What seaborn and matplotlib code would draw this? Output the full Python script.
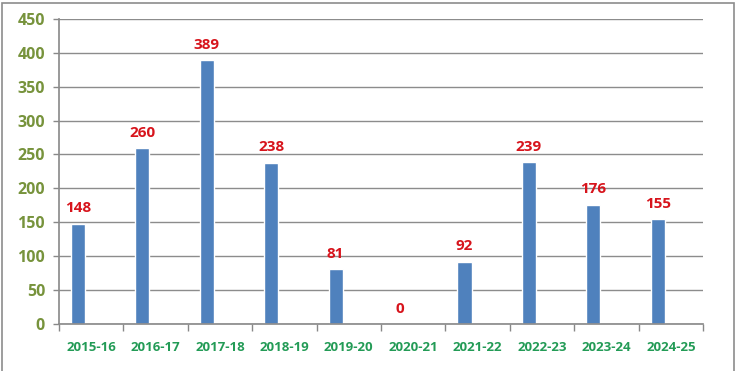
import matplotlib
matplotlib.use("Agg")
import matplotlib.pyplot as plt
from matplotlib.patches import Rectangle
import numpy as np
import pandas as pd
import seaborn as sns

# データ
years = ["2015-16", "2016-17", "2017-18", "2018-19", "2019-20",
         "2020-21", "2021-22", "2022-23", "2023-24", "2024-25"]
counts = [148, 260, 389, 238, 81, 0, 92, 239, 176, 155]
y_ticks = [0, 50, 100, 150, 200, 250, 300, 350, 400, 450]

df = pd.DataFrame({"year": years, "count": counts})

sns.set_theme(style="white")
plt.rcParams["font.family"] = ["Open Sans", "DejaVu Sans"]

fig = plt.figure(figsize=(7.37, 3.71), dpi=100)
ax = fig.add_axes([0.080, 0.127, 0.874, 0.822])

sns.barplot(data=df, x="year", y="count", color="#4F81BD", saturation=1,
            width=0.22, ax=ax)

# Excelの系列配置に合わせて棒を左に寄せる
shift = -0.205
for p in ax.patches:
    p.set_x(p.get_x() + shift)

# 値ラベル
for i, v in enumerate(counts):
    ax.text(i + shift, v + 12, str(v), ha="center", va="bottom",
            color="#D7141C", fontsize=11, fontweight="bold")

ax.set_xlim(-0.5, len(years) - 0.5)
ax.set_ylim(0, 450)
ax.set_yticks(y_ticks)
ax.set_yticklabels([str(t) for t in y_ticks], color="#77933C",
                   fontsize=11.5, fontweight="bold")
ax.set_xticks(range(len(years)))
ax.set_xticklabels(years, color="#239B56", fontsize=9.5, fontweight="bold")
ax.set_xticks(np.arange(-0.5, len(years)), minor=True)
ax.tick_params(axis="x", which="major", length=0, pad=12)
ax.tick_params(axis="x", which="minor", length=5, width=1, color="#888888",
               direction="out", bottom=True)
ax.tick_params(axis="y", length=4, width=1, color="#888888",
               direction="out", left=True, pad=6)

ax.yaxis.grid(True, color="#8C8C8C", linewidth=1)
ax.set_axisbelow(True)
for side in ["top", "right"]:
    ax.spines[side].set_visible(False)
ax.spines["left"].set_color("#8C8C8C")
ax.spines["bottom"].set_color("#8C8C8C")
ax.set_xlabel("")
ax.set_ylabel("")

# グラフ全体の枠線
fig.patches.append(Rectangle((2 / 737, -0.01), 732 / 737, 1 - 3 / 371 + 0.01,
                             transform=fig.transFigure, fill=False,
                             edgecolor="#8C8C8C", linewidth=1.2))

fig.savefig("out.png", dpi=100)
